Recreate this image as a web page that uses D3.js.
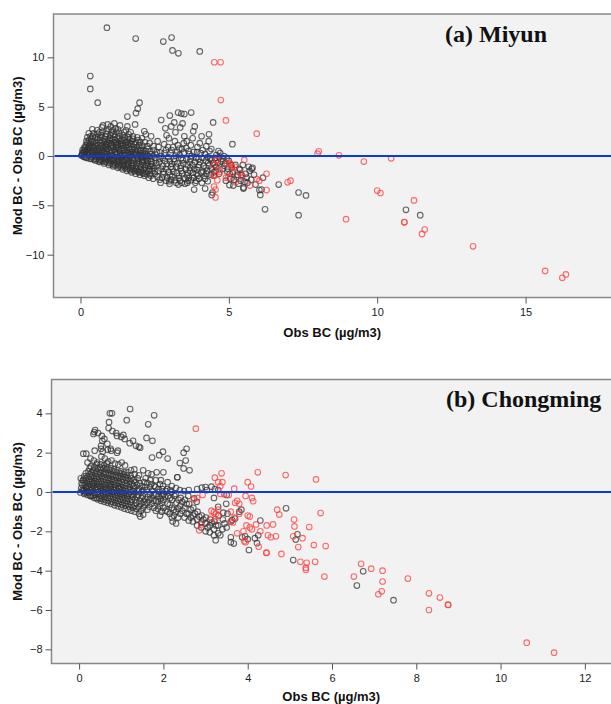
<!DOCTYPE html>
<html>
<head>
<meta charset="utf-8">
<script src="https://cdn.jsdelivr.net/npm/d3@7"></script>
<style>
  body { margin: 0; background: #fff; }
  svg { display: block; }
</style>
</head>
<body>
<div id="chart"></div>
<script>
// tick values
const miyunTicksX = [0, 5, 10, 15]
const miyunTicksY = [-10, -5, 0, 5, 10]
const chongTicksX = [0, 2, 4, 6, 8, 10, 12]
const chongTicksY = [-8, -6, -4, -2, 0, 2, 4]

// (Obs BC, Mod BC - Obs BC), Miyun
const miyunGray = [
  [0.03,0.05],[0.05,0.1],[0.08,0.4],[0.1,-0.05],[0.12,0.8],[0.15,0.2],[0.06,0.25],[0.18,1.1],[0.14,0.55],
  [0.22,-0.2],[0.24,0.3],[0.26,0.9],[0.2,1.5],[0.28,2.3],[0.25,0.6],[0.3,1.2],[0.32,0.75],
  [0.36,-0.3],[0.4,0.1],[0.38,0.5],[0.42,1.0],[0.37,1.7],[0.44,2.3],[0.4,2.7],[0.46,0.15],[0.48,0.55],
  [0.5,-0.45],[0.55,-0.1],[0.52,0.3],[0.58,0.7],[0.54,1.3],[0.6,1.9],[0.56,2.6],[0.62,0.45],[0.62,-0.35],
  [0.66,-0.6],[0.7,-0.25],[0.68,0.2],[0.72,0.6],[0.74,1.1],[0.66,1.6],[0.7,2.1],[0.72,2.9],[0.76,3.1],[0.78,0.35],
  [0.8,-0.75],[0.84,-0.4],[0.82,0.0],[0.88,0.5],[0.86,0.9],[0.9,1.4],[0.84,2.0],[0.88,2.5],[0.92,3.2],[0.86,1.2],
  [0.96,-0.9],[1.0,-0.5],[0.98,-0.1],[1.02,0.3],[1.04,0.8],[0.97,1.3],[1.0,1.8],[1.05,2.4],[1.02,3.0],[0.94,0.05],[1.06,1.05],
  [1.1,-1.05],[1.14,-0.7],[1.12,-0.3],[1.18,0.2],[1.15,0.6],[1.2,1.1],[1.16,1.6],[1.1,2.2],[1.18,2.8],[1.14,3.3],[1.08,-0.45],
  [1.26,-1.2],[1.3,-0.85],[1.28,-0.4],[1.34,0.0],[1.32,0.5],[1.27,0.9],[1.35,1.5],[1.3,2.0],[1.26,2.7],[1.33,3.1],[1.22,-0.55],[1.24,1.3],
  [1.42,-1.35],[1.46,-1.0],[1.44,-0.6],[1.4,-0.2],[1.48,0.3],[1.45,0.8],[1.42,1.3],[1.5,1.9],[1.47,2.4],[1.38,-0.9],[1.38,1.05],
  [1.56,-1.5],[1.6,-1.1],[1.58,-0.7],[1.62,-0.3],[1.64,0.1],[1.57,0.6],[1.6,1.1],[1.65,1.7],[1.62,2.2],[1.58,3.0],[1.52,-0.95],[1.54,1.35],
  [1.72,-1.65],[1.76,-1.25],[1.74,-0.9],[1.78,-0.45],[1.7,0.0],[1.75,0.4],[1.8,0.9],[1.73,1.5],[1.77,2.0],[1.68,-1.3],[1.68,0.7],
  [1.86,-1.8],[1.9,-1.4],[1.88,-1.0],[1.94,-0.5],[1.92,-0.1],[1.86,0.4],[1.9,0.9],[1.95,1.6],[1.84,3.2],[1.82,-1.55],[1.84,0.15],
  [2.0,-1.9],[2.04,-1.5],[2.02,-1.1],[2.08,-0.6],[2.06,-0.2],[2.1,0.3],[2.03,0.8],[2.07,1.8],[2.15,2.5],[1.98,-1.65],[2.0,0.5],
  [2.16,-2.0],[2.2,-1.6],[2.18,-1.2],[2.24,-0.7],[2.22,-0.3],[2.17,0.2],[2.25,1.0],[2.2,2.2],[2.12,-1.8],[2.12,-0.9],
  [2.3,-2.2],[2.34,-1.8],[2.32,-1.3],[2.38,-0.8],[2.36,-0.3],[2.4,0.2],[2.33,1.3],[2.38,2.0],[2.28,-1.0],
  [0.07,0.6],[0.11,0.3],[0.13,-0.1],[0.16,0.9],[0.17,0.45],[0.19,-0.15],[0.21,0.7],[0.23,1.3],[0.23,1.9],[0.26,0.05],
  [0.27,0.45],[0.29,1.6],[0.31,-0.25],[0.31,1.0],[0.33,0.3],[0.34,2.0],[0.35,1.35],[0.39,-0.1],[0.39,0.85],[0.41,0.35],
  [0.41,2.0],[0.43,1.45],[0.45,-0.35],[0.47,0.8],[0.47,1.15],[0.49,1.9],[0.51,0.05],[0.53,-0.3],[0.53,1.0],[0.55,0.45],
  [0.57,1.65],[0.57,2.25],[0.59,0.1],[0.61,-0.55],[0.61,1.1],[0.63,0.8],[0.64,2.4],[0.65,0.05],[0.67,1.35],[0.69,-0.45],
  [0.69,0.95],[0.71,1.85],[0.73,0.1],[0.73,0.4],[0.75,-0.5],[0.75,2.45],[0.77,0.85],[0.79,1.45],[0.79,-0.2],[0.81,1.75],
  [0.81,0.25],[0.83,-0.6],[0.83,1.05],[0.85,0.7],[0.87,2.25],[0.87,-0.25],[0.89,0.2],[0.91,1.1],[0.91,-0.65],[0.93,1.65],
  [0.93,0.75],[0.95,2.7],[0.95,-0.35],[0.97,0.55],[0.99,1.55],[1.01,-0.75],[1.01,2.1],[1.03,0.05],[1.03,1.2],[1.05,-0.25],
  [1.07,0.55],[1.07,1.75],[1.09,-0.85],[1.09,2.6],[1.11,0.0],[1.11,0.9],[1.13,1.35],[1.13,-0.5],[1.15,1.95],[1.17,-0.95],
  [1.17,0.4],[1.19,-0.1],[1.19,1.35],[1.21,0.8],[1.21,2.45],[1.23,-0.8],[1.23,0.25],[1.25,1.75],[1.25,-0.2],[1.27,1.15],
  [1.29,0.65],[1.29,-1.05],[1.31,2.35],[1.31,-0.6],[1.33,0.25],[1.35,1.25],[1.35,-0.15],[1.37,0.7],[1.37,-1.15],[1.39,1.7],
  [1.39,0.1],[1.41,-0.45],[1.41,2.1],[1.43,0.55],[1.43,1.05],[1.45,-0.8],[1.47,0.05],[1.47,1.6],[1.49,-1.2],[1.49,0.6],
  [1.51,-0.4],[1.51,1.1],[1.53,0.15],[1.53,2.6],[1.55,-0.2],[1.55,0.85],[1.57,-1.3],[1.59,0.35],[1.59,1.45],[1.61,-0.9],
  [1.61,1.9],[1.63,-0.5],[1.63,0.85],[1.65,-0.1],[1.66,1.3],[1.67,-1.45],[1.69,0.3],[1.69,2.4],[1.71,-0.7],[1.71,1.2],
  [1.73,-0.2],[1.75,0.7],[1.77,-1.05],[1.77,1.75],[1.79,0.15],[1.79,-1.45],[1.81,1.2],[1.81,-0.7],[1.83,0.6],[1.85,-0.3],
  [1.87,1.35],[1.87,-1.2],[1.89,0.2],[1.91,-0.75],[1.91,1.9],[1.93,0.65],[1.95,-1.6],[1.95,-0.3],[1.97,1.1],[1.97,0.1],
  [1.99,-0.85],[2.01,1.4],[2.03,-1.3],[2.05,0.05],[2.05,0.55],[2.07,-0.4],[2.09,-1.7],[2.09,1.05],[2.11,-0.1],[2.13,0.6],
  [2.13,-1.35],[2.15,-0.5],[2.17,1.4],[2.19,-0.05],[2.21,-0.95],[2.21,0.5],[2.23,-1.85],[2.25,0.05],[2.27,-0.5],[2.27,0.7],
  [2.29,-1.5],[2.31,0.0],[2.35,-1.05],[2.35,0.45],[2.37,-2.0],[2.39,-0.55],[2.41,-1.5],[2.43,-0.05],
  [2.45,-2.3],[2.5,-1.8],[2.48,-1.2],[2.55,-0.7],[2.52,-0.2],[2.58,0.4],[2.46,1.0],[2.6,1.5],[2.72,3.65],[2.62,-1.5],[2.66,-0.3],
  [2.7,-2.7],[2.75,-2.2],[2.8,-1.6],[2.78,-1.0],[2.85,-0.5],[2.72,0.0],[2.88,0.6],[2.82,1.2],[2.9,2.1],[2.86,2.8],[2.92,-2.2],[2.96,-0.1],
  [3.0,-2.8],[3.05,-2.4],[3.02,-1.9],[3.1,-1.3],[3.08,-0.8],[3.15,-0.3],[3.04,0.3],[3.12,0.9],[3.18,1.5],[3.2,2.4],[3.06,3.0],[3.16,3.4],[2.98,1.8],
  [3.3,-2.9],[3.35,-2.5],[3.32,-2.0],[3.4,-1.5],[3.38,-1.0],[3.45,-0.4],[3.34,0.1],[3.42,0.7],[3.48,1.3],[3.5,2.0],[3.36,2.9],[3.44,3.3],[3.22,-2.7],[3.26,0.4],[3.28,1.1],
  [3.6,-2.7],[3.65,-2.2],[3.62,-1.7],[3.7,-1.2],[3.68,-0.6],[3.75,0.0],[3.64,0.5],[3.72,1.1],[3.78,1.8],[3.8,2.5],[3.85,3.0],[3.52,-2.8],[3.56,0.8],[3.58,1.5],
  [3.9,-2.5],[3.95,-2.0],[3.92,-1.4],[4.0,-0.9],[3.98,-0.3],[4.05,0.3],[3.94,0.9],[4.02,1.3],[4.08,2.0],[3.82,-2.2],[3.86,-0.6],
  [4.2,-2.3],[4.25,-1.8],[4.22,-1.2],[4.3,-0.7],[4.28,-0.1],[4.35,0.5],[4.24,1.0],[4.32,1.5],[4.14,-1.6],[4.12,0.6],[4.42,-0.4],
  [4.5,-2.0],[4.55,-1.5],[4.52,-0.9],[4.6,-0.4],[4.58,0.1],[4.65,0.5],[4.68,-0.1],[4.8,-0.3],[4.85,-1.0],[4.95,-1.6],[4.9,-2.5],
  [2.43,-1.0],[2.47,0.6],[2.51,-1.55],[2.53,0.15],[2.57,-0.95],[2.59,-2.1],[2.63,0.9],[2.65,-0.65],[2.67,-2.4],[2.69,0.35],
  [2.73,-1.3],[2.77,-0.2],[2.79,-1.85],[2.83,0.3],[2.87,-1.3],[2.89,-2.5],[2.91,-0.8],[2.95,0.9],[2.97,-1.6],[2.99,-2.55],
  [3.01,-0.5],[3.05,-1.1],[3.07,0.6],[3.09,-2.1],[3.13,-1.6],[3.17,-0.55],[3.19,-2.45],[3.21,0.05],[3.23,-1.1],[3.25,-1.75],
  [3.27,-0.75],[3.31,-2.25],[3.33,0.75],[3.37,-1.25],[3.39,-0.2],[3.41,-2.7],[3.43,-1.75],[3.47,-0.75],[3.49,0.35],[3.53,-2.3],
  [3.55,-1.35],[3.57,-0.35],[3.59,-1.95],[3.61,-0.95],[3.63,-2.5],[3.67,0.2],[3.69,-1.5],[3.71,-0.3],[3.73,-2.45],[3.77,-0.9],
  [3.79,-1.7],[3.81,0.4],[3.83,-1.3],[3.87,-2.7],[3.89,-0.2],[3.91,-1.8],[3.93,0.4],[3.97,-1.15],[3.99,-2.3],[4.03,-0.6],
  [4.07,-1.7],[4.09,-2.7],[4.11,-0.2],[4.15,-1.0],[4.17,-2.0],[4.19,0.2],[4.23,-0.45],[4.27,-1.5],[4.29,-2.55],[4.33,-1.0],
  [4.37,-0.3],[4.39,-1.9],[4.41,0.7],[4.43,-1.3],[4.47,-0.7],[4.49,-1.65],[4.53,-0.2],[4.57,-1.1],[4.63,-0.7],[4.67,-1.8],
  [4.71,0.3],[4.75,-0.55],[4.79,-1.3],[4.83,0.0],[4.87,-0.75],[4.93,-0.2],[4.97,-1.3],[5.03,-1.8],[5.07,-0.9],[5.13,-1.6],
  [5.17,-2.4],[5.22,-0.9],[5.27,-2.1],[5.33,-2.8],[5.43,-1.9],[5.47,-0.9],[5.53,-2.6],[5.57,-1.8],[5.63,-2.7],[5.67,-1.1],
  [5.75,-2.4],[5.85,-1.9],[5.9,-2.9],[6.1,-3.4],[6.15,-2.2],
  [0.89,13.0],[1.86,11.9],[2.79,11.6],[3.07,12.0],[3.1,10.7],[3.3,10.4],[4.02,10.6],[0.33,8.1],[0.33,6.8],[0.58,5.4],
  [1.58,4.0],[1.87,4.35],[1.93,4.8],[1.99,5.4],[3.01,4.1],[3.29,4.4],[3.4,4.3],[3.5,4.25],[3.73,4.4],[4.47,3.4],[4.33,2.2],[5.12,1.2],
  [3.83,-3.4],[4.2,-3.3],[4.45,-3.7],[4.42,-3.95],[5.05,-2.3],[5.0,-0.5],[5.02,-2.95],[5.15,-3.0],[5.1,-1.2],[5.3,-1.9],[5.4,-2.5],
  [5.35,-1.3],[5.5,-3.2],[5.6,-2.2],[5.7,-1.5],[5.8,-1.2],[5.38,-1.4],[5.49,-3.3],[5.77,-1.3],[6.03,-3.45],[6.06,-3.95],[6.22,-5.4],
  [6.68,-2.9],[7.35,-3.7],[7.6,-4.0],[7.35,-6.0],[10.97,-5.45],[11.45,-6.0]
]
const miyunRed = [
  [4.51,9.5],[4.72,9.5],[4.73,5.67],[4.9,3.6],[5.94,2.26],[8.03,0.48],[7.99,0.24],[8.71,0.07],[9.55,-0.57],[10.47,-0.24],
  [10.0,-3.5],[10.11,-3.75],[11.24,-4.5],[8.95,-6.4],[10.91,-6.7],[10.92,-6.72],[11.6,-7.45],[11.51,-7.9],[13.23,-9.15],
  [15.66,-11.65],[16.24,-12.35],[16.36,-12.0],[5.52,-0.4],[6.27,-1.8],[7.08,-2.5],[6.98,-2.67],[6.27,-3.45],[5.94,-2.33],
  [6.03,-2.5],[5.71,-3.0],[5.38,-1.76],[5.45,-2.1],[5.23,-2.67],[4.93,-0.74],[5.04,-0.74],[5.1,-1.08],[4.98,-2.2],[4.9,-2.2],
  [4.6,-0.35],[4.59,-0.4],[4.5,-0.9],[4.68,-1.4],[4.53,-1.9],[4.61,-2.45],[4.7,-1.6],[4.5,-3.1],[4.55,-3.4],[4.55,-4.2],
  [5.1,-1.7],[5.05,-0.85],[5.2,-1.1],[4.48,-2.0]
]

// Chongming
const chongGray = [
  [0.03,-0.02],[0.05,0.2],[0.06,0.45],[0.04,0.7],[0.1,0.05],
  [0.12,-0.1],[0.12,0.1],[0.13,0.35],[0.11,0.6],[0.12,0.8],[0.1,1.95],[0.16,0.25],
  [0.2,-0.15],[0.2,0.05],[0.21,0.3],[0.19,0.55],[0.2,0.8],[0.22,1.05],[0.2,1.5],[0.17,1.95],[0.24,0.15],
  [0.28,-0.22],[0.28,0.0],[0.29,0.25],[0.27,0.5],[0.28,0.75],[0.3,1.0],[0.28,1.3],[0.27,1.7],[0.32,0.4],
  [0.36,-0.3],[0.36,-0.05],[0.37,0.2],[0.35,0.45],[0.36,0.7],[0.38,0.95],[0.36,1.25],[0.35,1.6],[0.37,2.1],[0.4,0.1],
  [0.44,-0.37],[0.44,-0.12],[0.45,0.15],[0.43,0.4],[0.44,0.65],[0.46,0.9],[0.44,1.2],[0.43,1.5],[0.48,0.3],
  [0.52,-0.45],[0.52,-0.2],[0.53,0.05],[0.51,0.3],[0.52,0.55],[0.54,0.8],[0.52,1.1],[0.51,1.4],[0.53,1.8],[0.52,2.35],[0.56,-0.05],
  [0.6,-0.5],[0.6,-0.25],[0.61,0.0],[0.59,0.25],[0.6,0.5],[0.62,0.75],[0.6,1.0],[0.59,1.35],[0.61,1.7],[0.64,0.15],
  [0.68,-0.55],[0.68,-0.3],[0.69,-0.05],[0.67,0.2],[0.68,0.45],[0.7,0.7],[0.68,0.95],[0.67,1.25],[0.69,1.55],[0.68,2.15],[0.72,0.35],
  [0.76,-0.6],[0.76,-0.35],[0.77,-0.1],[0.75,0.15],[0.76,0.4],[0.78,0.65],[0.76,0.9],[0.75,1.2],[0.77,1.6],[0.76,2.1],
  [0.84,-0.68],[0.84,-0.4],[0.85,-0.15],[0.83,0.1],[0.84,0.35],[0.86,0.6],[0.84,0.85],[0.83,1.15],[0.85,1.45],[0.8,0.0],
  [0.92,-0.72],[0.92,-0.45],[0.93,-0.2],[0.91,0.05],[0.92,0.3],[0.94,0.55],[0.92,0.8],[0.91,1.1],[0.93,1.4],[0.92,2.1],
  [1.0,-0.78],[1.0,-0.5],[1.01,-0.25],[0.99,0.0],[1.0,0.25],[1.02,0.5],[1.0,0.8],[0.99,1.05],[1.01,1.5],[0.96,0.15],
  [1.08,-0.85],[1.08,-0.55],[1.09,-0.3],[1.07,-0.05],[1.08,0.2],[1.1,0.45],[1.08,0.75],[1.07,1.0],[1.09,1.35],
  [1.16,-0.9],[1.16,-0.6],[1.17,-0.35],[1.15,-0.1],[1.16,0.15],[1.18,0.4],[1.16,0.7],[1.15,1.0],
  [1.24,-0.95],[1.24,-0.65],[1.25,-0.4],[1.23,-0.15],[1.24,0.1],[1.26,0.4],[1.24,0.7],[1.23,1.1],
  [1.32,-1.0],[1.32,-0.7],[1.33,-0.4],[1.31,-0.1],[1.32,0.2],[1.34,0.5],[1.32,0.9],[1.31,1.15],
  [1.42,-1.1],[1.42,-0.75],[1.43,-0.45],[1.41,-0.15],[1.42,0.15],[1.44,0.45],[1.42,0.85],
  [1.52,-1.15],[1.52,-0.8],[1.53,-0.5],[1.51,-0.2],[1.52,0.1],[1.54,0.5],[1.52,1.1],[1.45,-1.25],
  [1.62,-0.9],[1.62,-0.55],[1.63,-0.25],[1.61,0.1],[1.62,0.45],[1.64,0.95],
  [1.72,-0.6],[1.72,-0.3],[1.73,0.05],[1.71,0.4],[1.72,0.9],[1.82,-0.95],[1.82,-0.45],[1.83,-0.1],[1.81,0.25],[1.82,0.6],[1.84,1.0],
  [1.92,-1.2],[1.92,-0.7],[1.93,-0.35],[1.91,0.0],[1.92,0.4],[1.94,0.6],[2.0,-0.8],[2.0,-0.4],[2.01,-0.1],[1.99,0.3],[2.0,1.0],
  [0.08,0.1],[0.08,0.35],[0.09,0.6],[0.14,-0.05],[0.15,0.45],[0.15,0.7],[0.16,0.95],[0.17,0.0],[0.18,0.2],[0.23,-0.05],
  [0.24,0.4],[0.24,0.65],[0.25,0.9],[0.25,1.2],[0.26,-0.18],[0.3,0.1],[0.31,0.55],[0.31,0.85],[0.32,-0.2],[0.33,1.1],
  [0.34,0.3],[0.38,-0.15],[0.39,0.55],[0.4,0.8],[0.41,1.05],[0.41,-0.3],[0.42,0.25],[0.42,1.4],[0.46,0.0],[0.47,0.5],
  [0.47,0.75],[0.48,-0.3],[0.49,1.0],[0.5,0.2],[0.5,1.25],[0.54,-0.35],[0.55,0.4],[0.56,0.65],[0.57,0.15],[0.57,0.95],
  [0.58,-0.15],[0.58,1.2],[0.62,-0.4],[0.63,0.35],[0.63,0.6],[0.64,0.9],[0.65,-0.1],[0.65,1.15],[0.66,1.45],[0.7,-0.45],
  [0.71,0.05],[0.71,0.55],[0.72,0.85],[0.73,-0.2],[0.73,1.1],[0.74,0.25],[0.78,-0.5],[0.79,0.0],[0.79,0.5],[0.8,0.8],
  [0.81,-0.25],[0.81,1.05],[0.82,0.25],[0.86,-0.55],[0.87,0.15],[0.87,0.45],[0.88,0.75],[0.89,-0.3],[0.89,1.0],[0.9,-0.05],
  [0.94,-0.6],[0.95,0.2],[0.95,0.45],[0.96,0.7],[0.97,-0.35],[0.97,0.95],[0.98,-0.1],[1.02,-0.65],[1.03,0.1],[1.03,0.35],
  [1.04,0.65],[1.05,-0.4],[1.05,0.9],[1.06,-0.15],[1.1,-0.7],[1.11,0.05],[1.11,0.3],[1.12,0.6],[1.13,-0.45],[1.13,0.85],
  [1.14,-0.2],[1.19,-0.75],[1.2,0.0],[1.2,0.25],[1.21,0.55],[1.22,-0.5],[1.22,0.85],[1.28,-0.8],[1.28,-0.25],[1.29,0.05],
  [1.29,0.3],[1.3,0.6],[1.36,-0.85],[1.36,-0.55],[1.37,-0.25],[1.38,0.05],[1.38,0.35],[1.39,0.7],[1.47,-0.95],[1.47,-0.6],
  [1.48,-0.3],[1.48,0.0],[1.49,0.3],[1.56,-0.65],[1.57,-0.35],[1.57,0.25],[1.58,0.7],[1.67,-0.75],[1.67,-0.4],[1.68,-0.1],
  [1.68,0.25],[1.69,0.6],[1.77,-0.8],[1.77,-0.45],[1.78,-0.15],[1.78,0.3],[1.87,-0.85],[1.87,-0.5],[1.88,-0.2],[1.88,0.15],
  [1.96,-1.0],[1.96,-0.55],[1.97,-0.2],[1.97,0.15],[2.05,-0.95],[2.05,-0.25],[2.06,0.05],[2.15,-1.1],[2.15,-0.65],[2.16,-0.3],
  [2.16,0.1],[2.25,-1.2],[2.25,-0.9],[2.26,-0.2],[2.35,-1.3],[2.35,-0.85],[2.36,-0.4],[2.45,-0.95],[2.45,-0.5],[2.55,-1.1],
  [2.55,-0.6],[2.65,-1.3],[2.65,-0.9],[2.75,-1.1],[2.85,-1.25],[2.95,-1.4],[3.05,-1.8],[3.15,-1.55],[3.25,-1.7],[3.35,-2.2],[3.45,-1.6],
  [2.1,-1.0],[2.1,-0.6],[2.11,-0.2],[2.09,0.15],[2.1,0.5],[2.2,-1.3],[2.22,-1.5],[2.2,-0.8],[2.21,-0.4],[2.19,0.0],[2.2,0.3],
  [2.3,-1.6],[2.3,-1.0],[2.31,-0.55],[2.29,-0.1],[2.3,0.2],[2.33,0.75],[2.4,-1.1],[2.4,-0.7],[2.41,-0.3],[2.39,0.1],
  [2.5,-1.3],[2.5,-0.8],[2.51,-0.4],[2.49,0.05],[2.6,-1.45],[2.6,-1.1],[2.61,-0.6],[2.59,-0.2],[2.6,0.1],
  [2.7,-1.5],[2.7,-1.2],[2.71,-0.8],[2.73,-0.32],[2.8,-1.7],[2.8,-1.4],[2.81,-1.0],[2.79,-0.5],[2.8,0.15],
  [2.9,-1.8],[2.9,-1.55],[2.91,-1.2],[2.91,0.22],[3.0,-2.0],[3.0,-1.6],[3.01,-1.3],[3.0,0.25],[3.03,0.1],
  [3.1,-2.05],[3.1,-1.7],[3.11,-1.4],[3.14,0.27],[3.2,-2.2],[3.24,-2.45],[3.2,-1.9],[3.21,-1.5],[3.2,-0.3],[3.22,0.15],
  [3.3,-2.1],[3.3,-1.7],[3.31,-1.2],[3.3,-0.75],[3.3,0.1],[3.42,-1.05],[3.49,-0.6],[3.4,-1.9],[3.41,-1.4],[3.5,-1.8],[3.52,-1.1],[3.5,-0.15],
  [3.6,-1.5],[3.6,-2.3],[3.63,-1.43],[3.67,-2.62],[3.6,-2.55],[3.7,-1.35],[3.8,-1.0],[3.85,-0.9],[3.87,-2.3],[3.94,-2.25],[4.0,-2.4],
  [4.03,-2.95],[4.17,-2.35],[4.25,-2.2],[4.22,-2.6],[4.3,-1.45],[4.91,-0.83],[5.08,-3.46],[5.18,-2.15],[5.14,-2.42],
  [6.59,-4.76],[6.74,-4.03],[7.46,-5.5],
  [1.21,4.22],[0.73,4.0],[0.78,4.0],[1.78,3.9],[1.13,3.65],[1.64,3.44],[0.71,3.55],[0.34,2.95],[0.38,3.15],[0.36,3.05],[0.45,3.0],
  [0.7,3.25],[0.79,3.1],[0.88,3.0],[0.9,2.85],[1.0,2.8],[1.05,2.9],[1.08,2.7],[1.28,2.6],[1.6,2.75],[1.74,2.6],
  [0.54,2.85],[0.6,2.7],[0.55,2.6],[0.67,2.45],[0.75,2.2],[0.9,2.0],[0.52,2.2],[0.56,2.05],[1.35,2.35],[1.42,2.3],[1.45,2.25],[1.2,2.48],
  [1.99,2.05],[1.9,1.87],[2.1,1.7],[1.73,1.75],[2.39,1.47],[2.55,2.2],[2.48,2.0],[2.53,1.6],[2.48,1.2],[2.62,1.1],[2.33,0.75]
]
const chongRed = [
  [2.77,3.22],[4.24,1.0],[4.9,0.86],[5.62,0.64],[3.38,0.95],[3.22,0.73],[3.3,0.5],[3.4,0.5],[4.0,0.5],[4.08,0.28],[3.35,0.3],[3.68,0.17],
  [3.44,-0.12],[3.35,-0.1],[3.55,-0.15],[3.95,-0.2],[4.1,-0.3],[3.75,-0.45],[3.8,-0.6],[3.7,-0.55],[4.13,-0.47],[2.72,-0.38],[2.8,-0.3],
  [2.93,-0.15],[4.7,-0.9],[4.75,-1.15],[5.73,-1.07],[3.14,-0.95],[3.2,-1.02],[3.3,-0.9],[3.25,-1.1],[3.12,-1.3],[3.23,-1.38],[3.3,-1.2],
  [3.6,-1.0],[3.68,-1.3],[3.65,-1.55],[3.6,-1.5],[3.8,-1.1],[4.0,-1.2],[4.05,-1.25],[3.97,-1.7],[4.05,-1.8],[4.1,-1.9],[4.2,-1.65],
  [4.3,-2.0],[4.45,-1.7],[4.6,-1.65],[4.67,-2.25],[4.48,-2.2],[4.55,-2.3],[3.75,-2.1],[3.9,-2.0],[3.95,-2.55],[3.92,-2.5],[4.26,-2.78],
  [4.44,-3.1],[4.45,-3.08],[4.8,-3.15],[5.1,-1.4],[5.11,-1.75],[5.46,-1.78],[5.08,-2.25],[5.2,-2.8],[5.3,-2.35],[5.57,-2.7],[5.85,-2.75],
  [5.25,-3.55],[5.4,-3.6],[5.38,-3.85],[5.38,-3.95],[5.6,-3.55],[5.82,-4.3],[6.52,-4.3],[6.69,-3.65],[6.93,-3.9],[7.2,-4.0],[7.2,-4.55],
  [7.1,-5.2],[7.18,-5.05],[7.8,-4.4],[8.3,-5.15],[8.56,-5.37],[8.3,-6.0],[8.75,-5.73],[8.76,-5.74],[10.62,-7.66],[11.27,-8.17],
  [2.9,-1.65],[2.85,-1.95]
]

const W = 611, H = 704
const svg = d3.select("#chart").append("svg")
  .attr("width", W)
  .attr("height", H)

function drawPanel(p) {
  const x = d3.scaleLinear().domain(p.xDomain).range([p.left, p.right])
  const y = d3.scaleLinear().domain(p.yDomain).range([p.bottom, p.top])
  const g = svg.append("g")

  g.append("rect")
    .attr("x", p.left).attr("y", p.top)
    .attr("width", p.right - p.left + 4).attr("height", p.bottom - p.top)
    .attr("fill", "#f2f2f2")
    .attr("stroke", "#888")
    .attr("stroke-width", 1.5)

  const xAxis = g.append("g")
    .attr("transform", `translate(0,${p.bottom})`)
    .call(d3.axisBottom(x).tickValues(p.ticksX).tickSize(6).tickPadding(5))
  const yAxis = g.append("g")
    .attr("transform", `translate(${p.left},0)`)
    .call(d3.axisLeft(y).tickValues(p.ticksY).tickSize(6).tickPadding(3))
  for (const ax of [xAxis, yAxis]) {
    ax.select(".domain").remove()
    ax.selectAll(".tick line").attr("stroke", "#555")
    ax.selectAll("text")
      .attr("font-family", "'Liberation Sans', Arial, sans-serif")
      .attr("font-size", "11px")
      .attr("fill", "#222")
  }

  const dots = g.append("g").attr("fill", "none").attr("stroke-width", 1.1)
  dots.selectAll(".gray").data(p.gray).join("circle")
    .attr("class", "gray")
    .attr("cx", d => x(d[0])).attr("cy", d => y(d[1])).attr("r", 2.8)
    .attr("stroke", "#333").attr("stroke-opacity", 0.75)
  dots.selectAll(".red").data(p.red).join("circle")
    .attr("class", "red")
    .attr("cx", d => x(d[0])).attr("cy", d => y(d[1])).attr("r", 2.8)
    .attr("stroke", "#ff3b3b").attr("stroke-opacity", 0.75)

  g.append("line")
    .attr("x1", p.left + 1).attr("x2", W)
    .attr("y1", y(0)).attr("y2", y(0))
    .attr("stroke", "#0a3cdc").attr("stroke-width", 2)

  g.append("text")
    .attr("x", p.titleX).attr("y", p.titleY)
    .attr("font-family", "'Liberation Serif', 'Times New Roman', serif")
    .attr("font-weight", "bold").attr("font-size", "24px")
    .attr("fill", "#111")
    .text(p.title)

  g.append("text")
    .attr("x", (p.left + p.right) / 2).attr("y", p.xTitleY)
    .attr("text-anchor", "middle")
    .attr("font-family", "'Liberation Sans', Arial, sans-serif")
    .attr("font-weight", "bold").attr("font-size", "13px")
    .attr("fill", "#111")
    .text("Obs BC (µg/m3)")

  g.append("text")
    .attr("transform", `translate(22,${(p.top + p.bottom) / 2}) rotate(-90)`)
    .attr("text-anchor", "middle")
    .attr("font-family", "'Liberation Sans', Arial, sans-serif")
    .attr("font-weight", "bold").attr("font-size", "13px")
    .attr("fill", "#111")
    .text("Mod BC - Obs BC (µg/m3)")
}

drawPanel({
  left: 53.5, right: 611, top: 14, bottom: 297.5,
  xDomain: [-0.91, 17.88], yDomain: [-14.34, 14.39],
  ticksX: miyunTicksX, ticksY: miyunTicksY,
  gray: miyunGray, red: miyunRed,
  title: "(a) Miyun", titleX: 445, titleY: 42, xTitleY: 337
})

drawPanel({
  left: 51.5, right: 611, top: 379.5, bottom: 663.5,
  xDomain: [-0.655, 12.62], yDomain: [-8.72, 5.72],
  ticksX: chongTicksX, ticksY: chongTicksY,
  gray: chongGray, red: chongRed,
  title: "(b) Chongming", titleX: 446, titleY: 407, xTitleY: 701
})
</script>
</body>
</html>
